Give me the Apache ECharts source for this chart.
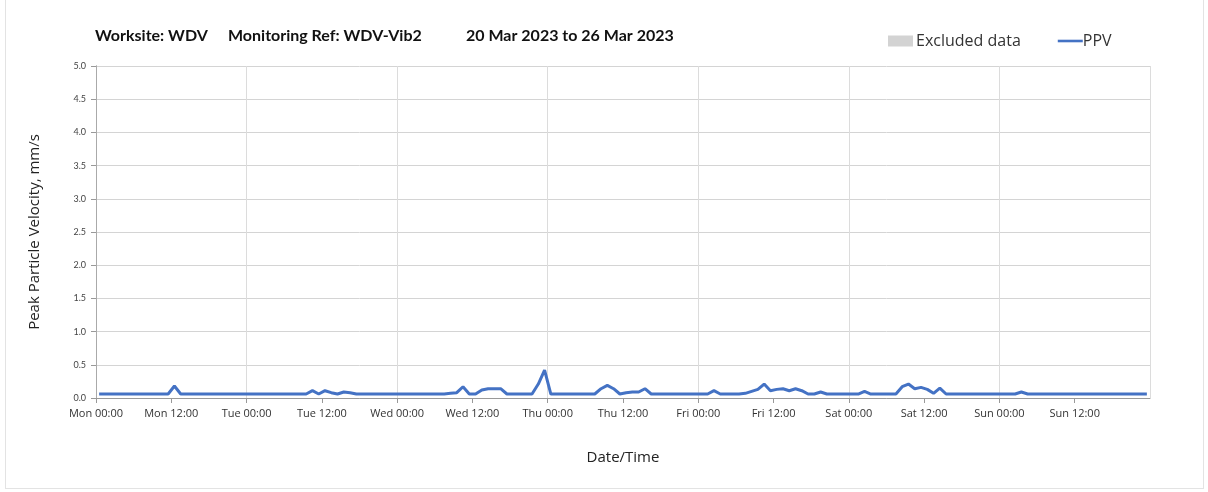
<!DOCTYPE html>
<html>
<head>
<meta charset="utf-8">
<title>PPV WDV-Vib2</title>
<script src="https://cdn.jsdelivr.net/npm/echarts@6/dist/echarts.min.js"></script>
<style>
  html, body { margin: 0; padding: 0; background: #fff; }
  #frame { position: absolute; left: 5px; top: -1px; width: 1197px; height: 488px; border: 1px solid #e3e3e3; }
  #main { width: 1208px; height: 492px; }
</style>
</head>
<body>
<div id="frame"></div>
<div id="main"></div>
<script>
// hourly PPV readings (mm/s), Mon 20 Mar 00:30 -> Sun 26 Mar 23:30, one row per day
const ppvMon = [0.06,0.06,0.06,0.06,0.06,0.06,0.06,0.06,0.06,0.06,0.06,0.06,0.18,0.06,0.06,0.06,0.06,0.06,0.06,0.06,0.06,0.06,0.06,0.06]
const ppvTue = [0.06,0.06,0.06,0.06,0.06,0.06,0.06,0.06,0.06,0.06,0.11,0.06,0.11,0.08,0.06,0.09,0.08,0.06,0.06,0.06,0.06,0.06,0.06,0.06]
const ppvWed = [0.06,0.06,0.06,0.06,0.06,0.06,0.06,0.06,0.07,0.08,0.17,0.06,0.06,0.12,0.14,0.14,0.14,0.06,0.06,0.06,0.06,0.06,0.21,0.42]
const ppvThu = [0.06,0.06,0.06,0.06,0.06,0.06,0.06,0.06,0.14,0.19,0.14,0.06,0.08,0.09,0.09,0.14,0.06,0.06,0.06,0.06,0.06,0.06,0.06,0.06]
const ppvFri = [0.06,0.06,0.11,0.06,0.06,0.06,0.06,0.07,0.10,0.13,0.21,0.11,0.13,0.14,0.11,0.14,0.11,0.06,0.06,0.09,0.06,0.06,0.06,0.06]
const ppvSat = [0.06,0.06,0.10,0.06,0.06,0.06,0.06,0.06,0.17,0.21,0.14,0.16,0.13,0.07,0.15,0.06,0.06,0.06,0.06,0.06,0.06,0.06,0.06,0.06]
const ppvSun = [0.06,0.06,0.06,0.09,0.06,0.06,0.06,0.06,0.06,0.06,0.06,0.06,0.06,0.06,0.06,0.06,0.06,0.06,0.06,0.06,0.06,0.06,0.06,0.06]
const excluded = []

const dayNames = ['Mon', 'Tue', 'Wed', 'Thu', 'Fri', 'Sat', 'Sun']
const titleParts = ['Worksite: WDV', 'Monitoring Ref: WDV-Vib2', '20 Mar 2023 to 26 Mar 2023']

const ppv = [].concat(ppvMon, ppvTue, ppvWed, ppvThu, ppvFri, ppvSat, ppvSun)
// readings are stamped at half past each hour
const ppvData = ppv.map((v, i) => [i + 0.5, v])

const font = '"Open Sans", Lato, sans-serif'
const chart = echarts.init(document.getElementById('main'))

chart.setOption({
  animation: false,
  title: [
    { text: titleParts[0], left: 95, top: 28 },
    { text: titleParts[1], left: 228, top: 28 },
    { text: titleParts[2], left: 466, top: 28 }
  ].map(t => Object.assign(t, {
    padding: 0,
    textStyle: { fontFamily: 'Lato, sans-serif', fontWeight: 'bold', fontSize: 16, color: '#111' }
  })),
  legend: {
    left: 888,
    top: 33,
    padding: 0,
    itemGap: 37,
    itemWidth: 25,
    itemHeight: 11,
    textStyle: { fontFamily: font, fontSize: 15, color: '#333', padding: [0, 0, 0, -2] },
    data: [
      { name: 'Excluded data', icon: 'rect', textStyle: { fontSize: 16 } },
      { name: 'PPV', icon: 'path://M0,0L27,0L27,2.8L0,2.8Z', textStyle: { fontSize: 16, padding: [0, 0, 0, -5] } }
    ]
  },
  grid: { left: 96, right: 58, top: 66, bottom: 94 },
  xAxis: [
    {
      type: 'value',
      min: 0,
      max: 168,
      interval: 12,
      name: 'Date/Time',
      nameLocation: 'middle',
      nameGap: 52,
      nameTextStyle: { fontFamily: font, fontSize: 15, color: '#222' },
      axisLine: { lineStyle: { color: '#999' } },
      axisTick: { length: 5, lineStyle: { color: '#999' } },
      axisLabel: {
        fontFamily: font,
        fontSize: 11,
        color: '#333',
        margin: 10,
        showMaxLabel: false,
        formatter: v => (v >= 168 ? '' : dayNames[Math.floor(v / 24)] + ' ' + (v % 24 === 0 ? '00:00' : '12:00'))
      },
      splitLine: { show: false }
    },
    {
      // day gridlines only
      type: 'value',
      min: 0,
      max: 168,
      interval: 24,
      position: 'bottom',
      axisLine: { show: false },
      axisTick: { show: false },
      axisLabel: { show: false },
      splitLine: { show: true, lineStyle: { color: '#dcdcdc' } }
    }
  ],
  yAxis: [
    {
      type: 'value',
      min: 0,
      max: 5,
      interval: 0.5,
      name: 'Peak Particle Velocity, mm/s',
      nameLocation: 'middle',
      nameGap: 54,
      nameTextStyle: { fontFamily: font, fontSize: 15, color: '#222' },
      axisLine: { show: true, lineStyle: { color: '#999' } },
      axisTick: { show: true, length: 5, lineStyle: { color: '#999' } },
      axisLabel: { fontFamily: 'Lato, sans-serif', fontSize: 9, color: '#444', margin: 10, formatter: v => v.toFixed(1) },
      splitLine: { lineStyle: { color: '#d4d4d4' } }
    },
    {
      // right frame line
      type: 'value',
      min: 0,
      max: 5,
      position: 'right',
      axisLine: { show: true, lineStyle: { color: '#aaa' } },
      axisTick: { show: false },
      axisLabel: { show: false },
      splitLine: { show: false }
    }
  ],
  series: [
    {
      name: 'Excluded data',
      type: 'bar',
      itemStyle: { color: '#d3d3d3' },
      data: excluded
    },
    {
      name: 'PPV',
      type: 'line',
      symbol: 'none',
      lineStyle: { color: '#4472c4', width: 3 },
      itemStyle: { color: '#4472c4' },
      data: ppvData
    }
  ]
})
</script>
</body>
</html>
